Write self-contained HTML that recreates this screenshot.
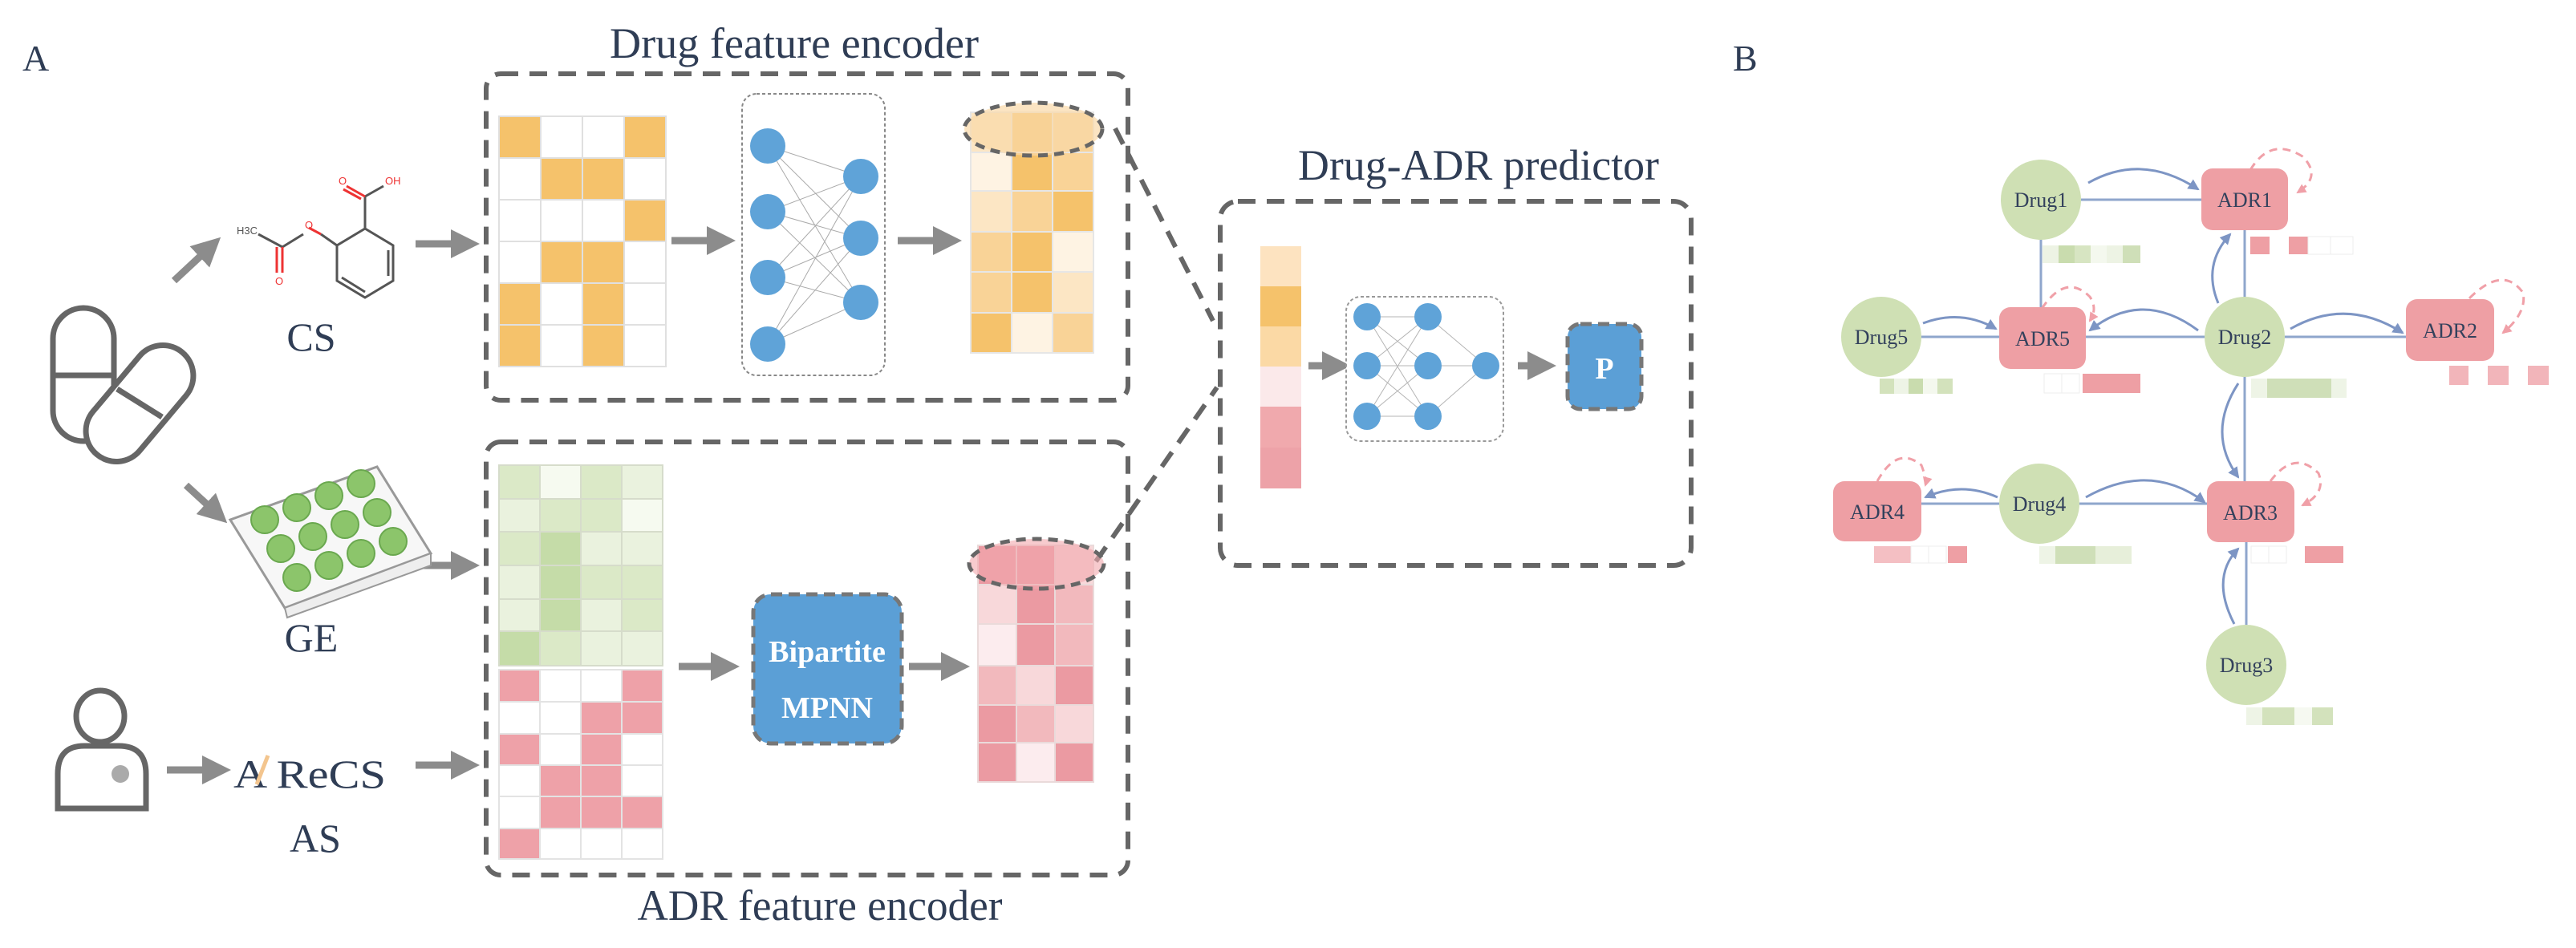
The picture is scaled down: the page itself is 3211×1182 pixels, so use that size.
<!DOCTYPE html>
<html><head><meta charset="utf-8"><style>html,body{margin:0;padding:0;background:#fff}svg{display:block}text{font-family:"Liberation Serif","DejaVu Serif",serif}</style></head><body>
<svg width="3211" height="1182" viewBox="0 0 3211 1182" xmlns="http://www.w3.org/2000/svg" style="font-family:'Liberation Serif',serif">
<defs>
<marker id="ga" markerWidth="4" markerHeight="4" refX="2" refY="2" orient="auto"><path d="M0,0 L4,2 L0,4 z" fill="#8c8c8c"/></marker>
<marker id="pa" markerWidth="12" markerHeight="12" refX="10" refY="6" orient="auto" markerUnits="userSpaceOnUse"><path d="M0,0 L12,6 L0,12 z" fill="#f0a0a8"/></marker>
<marker id="bb" markerWidth="14" markerHeight="14" refX="12" refY="7" orient="auto" markerUnits="userSpaceOnUse"><path d="M0,0 L14,7 L0,14 z" fill="#7d95c4"/></marker>
</defs>
<g fill="#2f3d55">
<text x="28" y="88" font-size="46">A</text>
<text x="990" y="72" font-size="54" text-anchor="middle" textLength="460" lengthAdjust="spacingAndGlyphs">Drug feature encoder</text>
<text x="1843" y="224" font-size="54" text-anchor="middle" textLength="450" lengthAdjust="spacingAndGlyphs">Drug-ADR predictor</text>
<text x="1022" y="1147" font-size="54" text-anchor="middle" textLength="455" lengthAdjust="spacingAndGlyphs">ADR feature encoder</text>
<text x="388" y="437" font-size="50" text-anchor="middle">CS</text>
<text x="388" y="812" font-size="50" text-anchor="middle">GE</text>
<text x="393" y="1062" font-size="50" text-anchor="middle">AS</text>
<text x="386" y="982" font-size="50" text-anchor="middle" textLength="190" lengthAdjust="spacingAndGlyphs">A  ReCS</text>
<text x="2160" y="88" font-size="46">B</text>
</g>
<path d="M320,978 L334,942" stroke="#f3c58e" stroke-width="5"/>
<g fill="none" stroke="#666" stroke-width="6" stroke-dasharray="22,14">
<rect x="606" y="92" width="800" height="407" rx="18"/>
<rect x="606" y="551" width="800" height="540" rx="18"/>
<rect x="1521" y="251" width="587" height="454" rx="22"/>
<path d="M1390,160 L1512,400"/>
<path d="M1366,700 L1517,483"/>
</g>
<g stroke="#8c8c8c" stroke-width="9" fill="none" marker-end="url(#ga)">
<path d="M217,350 L262,308"/>
<path d="M518,304 L580,304"/>
<path d="M837,300 L899,300"/>
<path d="M1119,300 L1181,300"/>
<path d="M232,605 L270,640"/>
<path d="M518,705 L580,705"/>
<path d="M208,960 L270,960"/>
<path d="M518,954 L580,954"/>
<path d="M846,831 L904,831"/>
<path d="M1133,831 L1191,831"/>
<path d="M1631,456 L1666,456"/>
<path d="M1892,456 L1922,456"/>
</g>
<g stroke="#e0e0e0" stroke-width="2">
<rect x="622" y="145" width="52" height="52" fill="#f5c26b"/><rect x="674" y="145" width="52" height="52" fill="#fff"/><rect x="726" y="145" width="52" height="52" fill="#fff"/><rect x="778" y="145" width="52" height="52" fill="#f5c26b"/>
<rect x="622" y="197" width="52" height="52" fill="#fff"/><rect x="674" y="197" width="52" height="52" fill="#f5c26b"/><rect x="726" y="197" width="52" height="52" fill="#f5c26b"/><rect x="778" y="197" width="52" height="52" fill="#fff"/>
<rect x="622" y="249" width="52" height="52" fill="#fff"/><rect x="674" y="249" width="52" height="52" fill="#fff"/><rect x="726" y="249" width="52" height="52" fill="#fff"/><rect x="778" y="249" width="52" height="52" fill="#f5c26b"/>
<rect x="622" y="301" width="52" height="52" fill="#fff"/><rect x="674" y="301" width="52" height="52" fill="#f5c26b"/><rect x="726" y="301" width="52" height="52" fill="#f5c26b"/><rect x="778" y="301" width="52" height="52" fill="#fff"/>
<rect x="622" y="353" width="52" height="52" fill="#f5c26b"/><rect x="674" y="353" width="52" height="52" fill="#fff"/><rect x="726" y="353" width="52" height="52" fill="#f5c26b"/><rect x="778" y="353" width="52" height="52" fill="#fff"/>
<rect x="622" y="405" width="52" height="52" fill="#f5c26b"/><rect x="674" y="405" width="52" height="52" fill="#fff"/><rect x="726" y="405" width="52" height="52" fill="#f5c26b"/><rect x="778" y="405" width="52" height="52" fill="#fff"/>
</g>
<g stroke="#e6e6e6" stroke-width="2">
<rect x="1210" y="140" width="51" height="50" fill="#fce6c4"/><rect x="1261" y="140" width="51" height="50" fill="#f5c26b"/><rect x="1312" y="140" width="51" height="50" fill="#f9d397"/>
<rect x="1210" y="190" width="51" height="48" fill="#fef3e3"/><rect x="1261" y="190" width="51" height="48" fill="#f5c26b"/><rect x="1312" y="190" width="51" height="48" fill="#f9d397"/>
<rect x="1210" y="238" width="51" height="51" fill="#fce6c4"/><rect x="1261" y="238" width="51" height="51" fill="#f9d397"/><rect x="1312" y="238" width="51" height="51" fill="#f5c26b"/>
<rect x="1210" y="289" width="51" height="50" fill="#f9d397"/><rect x="1261" y="289" width="51" height="50" fill="#f5c26b"/><rect x="1312" y="289" width="51" height="50" fill="#fef3e3"/>
<rect x="1210" y="339" width="51" height="51" fill="#f9d397"/><rect x="1261" y="339" width="51" height="51" fill="#f5c26b"/><rect x="1312" y="339" width="51" height="51" fill="#fce6c4"/>
<rect x="1210" y="390" width="51" height="50" fill="#f5c26b"/><rect x="1261" y="390" width="51" height="50" fill="#fef3e3"/><rect x="1312" y="390" width="51" height="50" fill="#f9d397"/>
</g>
<ellipse cx="1288" cy="161" rx="86" ry="33" fill="#f9d9a8" fill-opacity="0.7" stroke="#666" stroke-width="5" stroke-dasharray="12,8"/>
<g stroke="#d6dccb" stroke-width="2">
<rect x="622" y="580" width="51" height="42" fill="#dbe9c7"/><rect x="673" y="580" width="51" height="42" fill="#f6faf0"/><rect x="724" y="580" width="51" height="42" fill="#dbe9c7"/><rect x="775" y="580" width="51" height="42" fill="#eaf2de"/>
<rect x="622" y="622" width="51" height="41" fill="#eaf2de"/><rect x="673" y="622" width="51" height="41" fill="#dbe9c7"/><rect x="724" y="622" width="51" height="41" fill="#dbe9c7"/><rect x="775" y="622" width="51" height="41" fill="#f6faf0"/>
<rect x="622" y="663" width="51" height="42" fill="#dbe9c7"/><rect x="673" y="663" width="51" height="42" fill="#c5dca8"/><rect x="724" y="663" width="51" height="42" fill="#eaf2de"/><rect x="775" y="663" width="51" height="42" fill="#eaf2de"/>
<rect x="622" y="705" width="51" height="42" fill="#eaf2de"/><rect x="673" y="705" width="51" height="42" fill="#c5dca8"/><rect x="724" y="705" width="51" height="42" fill="#dbe9c7"/><rect x="775" y="705" width="51" height="42" fill="#dbe9c7"/>
<rect x="622" y="747" width="51" height="40" fill="#eaf2de"/><rect x="673" y="747" width="51" height="40" fill="#c5dca8"/><rect x="724" y="747" width="51" height="40" fill="#eaf2de"/><rect x="775" y="747" width="51" height="40" fill="#dbe9c7"/>
<rect x="622" y="787" width="51" height="43" fill="#c5dca8"/><rect x="673" y="787" width="51" height="43" fill="#dbe9c7"/><rect x="724" y="787" width="51" height="43" fill="#eaf2de"/><rect x="775" y="787" width="51" height="43" fill="#eaf2de"/>
</g>
<g stroke="#e3e3e3" stroke-width="2">
<rect x="622" y="835" width="51" height="40" fill="#eea1a8"/><rect x="673" y="835" width="51" height="40" fill="#fff"/><rect x="724" y="835" width="51" height="40" fill="#fff"/><rect x="775" y="835" width="51" height="40" fill="#eea1a8"/>
<rect x="622" y="875" width="51" height="40" fill="#fff"/><rect x="673" y="875" width="51" height="40" fill="#fff"/><rect x="724" y="875" width="51" height="40" fill="#eea1a8"/><rect x="775" y="875" width="51" height="40" fill="#eea1a8"/>
<rect x="622" y="915" width="51" height="39" fill="#eea1a8"/><rect x="673" y="915" width="51" height="39" fill="#fff"/><rect x="724" y="915" width="51" height="39" fill="#eea1a8"/><rect x="775" y="915" width="51" height="39" fill="#fff"/>
<rect x="622" y="954" width="51" height="39" fill="#fff"/><rect x="673" y="954" width="51" height="39" fill="#eea1a8"/><rect x="724" y="954" width="51" height="39" fill="#eea1a8"/><rect x="775" y="954" width="51" height="39" fill="#fff"/>
<rect x="622" y="993" width="51" height="40" fill="#fff"/><rect x="673" y="993" width="51" height="40" fill="#eea1a8"/><rect x="724" y="993" width="51" height="40" fill="#eea1a8"/><rect x="775" y="993" width="51" height="40" fill="#eea1a8"/>
<rect x="622" y="1033" width="51" height="38" fill="#eea1a8"/><rect x="673" y="1033" width="51" height="38" fill="#fff"/><rect x="724" y="1033" width="51" height="38" fill="#fff"/><rect x="775" y="1033" width="51" height="38" fill="#fff"/>
</g>
<g stroke="#eadada" stroke-width="2">
<rect x="1219" y="680" width="48" height="49" fill="#eb9aa2"/><rect x="1267" y="680" width="48" height="49" fill="#eb9aa2"/><rect x="1315" y="680" width="48" height="49" fill="#f8d8da"/>
<rect x="1219" y="729" width="48" height="49" fill="#f8d8da"/><rect x="1267" y="729" width="48" height="49" fill="#eb9aa2"/><rect x="1315" y="729" width="48" height="49" fill="#f2b9bd"/>
<rect x="1219" y="778" width="48" height="52" fill="#fcecee"/><rect x="1267" y="778" width="48" height="52" fill="#eb9aa2"/><rect x="1315" y="778" width="48" height="52" fill="#f2b9bd"/>
<rect x="1219" y="830" width="48" height="49" fill="#f2b9bd"/><rect x="1267" y="830" width="48" height="49" fill="#f8d8da"/><rect x="1315" y="830" width="48" height="49" fill="#eb9aa2"/>
<rect x="1219" y="879" width="48" height="47" fill="#eb9aa2"/><rect x="1267" y="879" width="48" height="47" fill="#f2b9bd"/><rect x="1315" y="879" width="48" height="47" fill="#f8d8da"/>
<rect x="1219" y="926" width="48" height="49" fill="#eb9aa2"/><rect x="1267" y="926" width="48" height="49" fill="#fcecee"/><rect x="1315" y="926" width="48" height="49" fill="#eb9aa2"/>
</g>
<ellipse cx="1292" cy="703" rx="84" ry="31" fill="#f1a8ae" fill-opacity="0.6" stroke="#666" stroke-width="5" stroke-dasharray="12,8"/>
<rect x="925" y="117" width="178" height="351" rx="18" fill="#fff" stroke="#888" stroke-width="2" stroke-dasharray="4,3"/>
<g stroke="#aaa" stroke-width="1">
<path d="M957,182L1073,220M957,182L1073,297M957,182L1073,377M957,264L1073,220M957,264L1073,297M957,264L1073,377M957,346L1073,220M957,346L1073,297M957,346L1073,377M957,429L1073,220M957,429L1073,297M957,429L1073,377"/>
</g>
<g fill="#5fa3d8">
<circle cx="957" cy="182" r="22"/><circle cx="957" cy="264" r="22"/><circle cx="957" cy="346" r="22"/><circle cx="957" cy="429" r="22"/>
<circle cx="1073" cy="220" r="22"/><circle cx="1073" cy="297" r="22"/><circle cx="1073" cy="377" r="22"/>
</g>
<rect x="939" y="741" width="185" height="186" rx="22" fill="#5b9fd6" stroke="#777" stroke-width="5" stroke-dasharray="14,8"/>
<text x="1031" y="825" font-size="38" fill="#fff" font-weight="bold" text-anchor="middle">Bipartite</text>
<text x="1031" y="895" font-size="38" fill="#fff" font-weight="bold" text-anchor="middle">MPNN</text>
<rect x="1571" y="307" width="51" height="50" fill="#fde3c0"/><rect x="1571" y="357" width="51" height="50" fill="#f5c26b"/><rect x="1571" y="407" width="51" height="50" fill="#fbd9a5"/><rect x="1571" y="457" width="51" height="50" fill="#fbe9ea"/><rect x="1571" y="507" width="51" height="51" fill="#f0a9ad"/><rect x="1571" y="558" width="51" height="51" fill="#eda2a8"/>
<rect x="1678" y="370" width="196" height="180" rx="18" fill="#fff" stroke="#999" stroke-width="2" stroke-dasharray="4,3"/>
<g stroke="#b5b5b5" stroke-width="1"><path d="M1704,395L1780,395M1704,395L1780,456M1704,395L1780,519M1704,456L1780,395M1704,456L1780,456M1704,456L1780,519M1704,519L1780,395M1704,519L1780,456M1704,519L1780,519M1780,395L1852,456M1780,456L1852,456M1780,519L1852,456"/></g>
<g fill="#5fa3d8"><circle cx="1704" cy="395" r="17"/><circle cx="1704" cy="456" r="17"/><circle cx="1704" cy="519" r="17"/><circle cx="1780" cy="395" r="17"/><circle cx="1780" cy="456" r="17"/><circle cx="1780" cy="519" r="17"/><circle cx="1852" cy="456" r="17"/></g>
<rect x="1954" y="404" width="92" height="106" rx="16" fill="#5b9fd6" stroke="#777" stroke-width="5" stroke-dasharray="14,8"/>
<text x="2000" y="472" font-size="38" font-weight="bold" fill="#fff" text-anchor="middle">P</text>
<g fill="none" stroke="#555" stroke-width="3">
<polygon points="455,285 490,306 490,350 455,371 420,350 420,306"/>
<path d="M484,312 L484,344 M455,364 L426,346"/>
<path d="M455,285 L455,245"/>
<path d="M420,306 L400,292"/>
<path d="M378,292 L352,308 L322,292"/>
<path d="M455,245 L478,232"/>
</g>
<g stroke="#e33" stroke-width="3" fill="none"><path d="M455,245 L432,232 M450,248 L428,236"/><path d="M400,292 L385,284"/><path d="M352,308 L352,340 M345,308 L345,340"/></g>
<g font-size="13"><text x="422" y="230" fill="#e33" style="font-family:'Liberation Sans',sans-serif">O</text><text x="480" y="230" fill="#e33" style="font-family:'Liberation Sans',sans-serif">OH</text><text x="380" y="285" fill="#e33" style="font-family:'Liberation Sans',sans-serif">O</text><text x="343" y="355" fill="#e33" style="font-family:'Liberation Sans',sans-serif">O</text><text x="295" y="292" fill="#555" style="font-family:'Liberation Sans',sans-serif">H3C</text></g>
<g fill="none" stroke="#666" stroke-width="7">
<rect x="66" y="384" width="76" height="166" rx="38"/>
<path d="M66,468 L142,468"/>
<rect x="136" y="420" width="76" height="166" rx="38" transform="rotate(40 174 503)" fill="#fff"/>
<path d="M146,485 L202,520" />
</g>
<g>
<polygon points="287,648 470,582 537,690 355,758" fill="#f7f7f7" stroke="#999" stroke-width="3"/>
<polygon points="355,758 537,690 537,705 358,770" fill="#eee" stroke="#999" stroke-width="2"/>
<g fill="#8cc56b" stroke="#6aa84f" stroke-width="2">
<circle cx="330" cy="648" r="17"/><circle cx="370" cy="633" r="17"/><circle cx="410" cy="618" r="17"/><circle cx="450" cy="603" r="17"/>
<circle cx="350" cy="684" r="17"/><circle cx="390" cy="669" r="17"/><circle cx="430" cy="654" r="17"/><circle cx="470" cy="639" r="17"/>
<circle cx="370" cy="720" r="17"/><circle cx="410" cy="705" r="17"/><circle cx="450" cy="690" r="17"/><circle cx="490" cy="675" r="17"/>
</g></g>
<g fill="none" stroke="#666" stroke-width="7">
<ellipse cx="125" cy="893" rx="30" ry="32"/>
<path d="M72,1008 L72,965 Q72,930 105,930 L148,930 Q182,930 182,965 L182,1008 Z"/>
</g>
<circle cx="150" cy="965" r="11" fill="#aaa"/>
<g stroke="#8fa6cc" stroke-width="3" fill="none">
<path d="M2594,249 L2744,249"/>
<path d="M2544,298 L2544,383"/>
<path d="M2395,420 L2492,420"/>
<path d="M2600,420 L2748,420"/>
<path d="M2848,420 L2999,420"/>
<path d="M2798,287 L2798,600"/>
<path d="M2800,676 L2800,779"/>
<path d="M2592,628 L2751,628"/>
<path d="M2492,628 L2395,628"/>
</g>
<g stroke="#7d95c4" stroke-width="3" fill="none" marker-end="url(#bb)">
<path d="M2603,228 Q2670,190 2740,236"/>
<path d="M2397,403 Q2445,385 2488,410"/>
<path d="M2740,412 Q2670,360 2605,412"/>
<path d="M2855,410 Q2925,370 2995,415"/>
<path d="M2765,378 Q2745,330 2780,292"/>
<path d="M2790,478 Q2750,540 2790,595"/>
<path d="M2600,620 Q2680,575 2748,626"/>
<path d="M2490,620 Q2445,600 2400,620"/>
<path d="M2785,778 Q2755,720 2790,684"/>
</g>
<g stroke="#f0a0a8" stroke-width="3" fill="none" stroke-dasharray="10,7" marker-end="url(#pa)">
<path d="M2805,212 Q2830,170 2870,195 Q2895,220 2864,240"/>
<path d="M2545,385 Q2575,340 2605,370 Q2615,385 2605,400"/>
<path d="M3078,372 Q3120,330 3145,365 Q3150,390 3120,415"/>
<path d="M2340,600 Q2365,555 2395,580 Q2402,598 2400,605"/>
<path d="M2830,600 Q2860,560 2890,590 Q2900,615 2870,630"/>
</g>
<g fill="#cfe0b4">
<circle cx="2544" cy="249" r="50"/><circle cx="2345" cy="420" r="50"/><circle cx="2798" cy="420" r="50"/><circle cx="2542" cy="628" r="50"/><circle cx="2800" cy="829" r="50"/>
</g>
<g fill="#ee9fa4">
<rect x="2744" y="210" width="108" height="77" rx="14"/><rect x="2492" y="383" width="108" height="77" rx="14"/><rect x="2999" y="373" width="110" height="77" rx="14"/><rect x="2285" y="600" width="110" height="75" rx="14"/><rect x="2751" y="600" width="109" height="76" rx="14"/>
</g>
<g font-size="26" fill="#33415c" text-anchor="middle">
<text x="2544" y="258">Drug1</text><text x="2345" y="429">Drug5</text><text x="2798" y="429">Drug2</text><text x="2542" y="637">Drug4</text><text x="2800" y="838">Drug3</text>
<text x="2798" y="258">ADR1</text><text x="2546" y="431">ADR5</text><text x="3054" y="421">ADR2</text><text x="2340" y="647">ADR4</text><text x="2805" y="648">ADR3</text>
</g>
<g>
<rect x="2546" y="306" width="20" height="22" fill="#edf3e4"/><rect x="2566" y="306" width="20" height="22" fill="#c9dcae"/><rect x="2586" y="306" width="20" height="22" fill="#d7e5c2"/><rect x="2606" y="306" width="20" height="22" fill="#f4f8ee"/><rect x="2626" y="306" width="20" height="22" fill="#edf3e4"/><rect x="2646" y="306" width="22" height="22" fill="#cfdfb8"/>
<rect x="2805" y="295" width="24" height="22" fill="#ee9fa4"/><rect x="2853" y="295" width="24" height="22" fill="#ee9fa4"/><rect x="2877" y="295" width="28" height="22" fill="#fff" stroke="#eee"/><rect x="2905" y="295" width="28" height="22" fill="#fff" stroke="#eee"/>
<rect x="2343" y="472" width="18" height="19" fill="#d3e2bc"/><rect x="2361" y="472" width="18" height="19" fill="#eef4e6"/><rect x="2379" y="472" width="18" height="19" fill="#c9dcae"/><rect x="2397" y="472" width="18" height="19" fill="#f4f8ee"/><rect x="2415" y="472" width="19" height="19" fill="#d3e2bc"/>
<rect x="2548" y="466" width="22" height="24" fill="#fff" stroke="#eee"/><rect x="2570" y="466" width="22" height="24" fill="#fff" stroke="#eee"/><rect x="2596" y="466" width="72" height="24" fill="#ee9fa4"/>
<rect x="2806" y="472" width="20" height="24" fill="#eef4e6"/><rect x="2826" y="472" width="80" height="24" fill="#cfdfb8"/><rect x="2906" y="472" width="19" height="24" fill="#eef4e6"/>
<rect x="3053" y="456" width="24" height="24" fill="#f2b5ba"/><rect x="3101" y="456" width="26" height="24" fill="#f2b5ba"/><rect x="3151" y="456" width="26" height="24" fill="#f2b5ba"/>
<rect x="2336" y="681" width="46" height="21" fill="#f4bfc3"/><rect x="2382" y="681" width="22" height="21" fill="#fff" stroke="#eee"/><rect x="2404" y="681" width="22" height="21" fill="#fff" stroke="#eee"/><rect x="2428" y="681" width="24" height="21" fill="#ee9fa4"/>
<rect x="2542" y="681" width="20" height="22" fill="#eef4e6"/><rect x="2562" y="681" width="50" height="22" fill="#cfdfb8"/><rect x="2612" y="681" width="45" height="22" fill="#e7efda"/>
<rect x="2806" y="681" width="22" height="21" fill="#fff" stroke="#eee"/><rect x="2828" y="681" width="22" height="21" fill="#fff" stroke="#eee"/><rect x="2873" y="681" width="48" height="21" fill="#ee9fa4"/>
<rect x="2800" y="882" width="20" height="22" fill="#eef4e6"/><rect x="2820" y="882" width="40" height="22" fill="#d3e2bc"/><rect x="2860" y="882" width="22" height="22" fill="#f6f9f1"/><rect x="2882" y="882" width="26" height="22" fill="#d3e2bc"/>
</g>
</svg>
</body></html>
